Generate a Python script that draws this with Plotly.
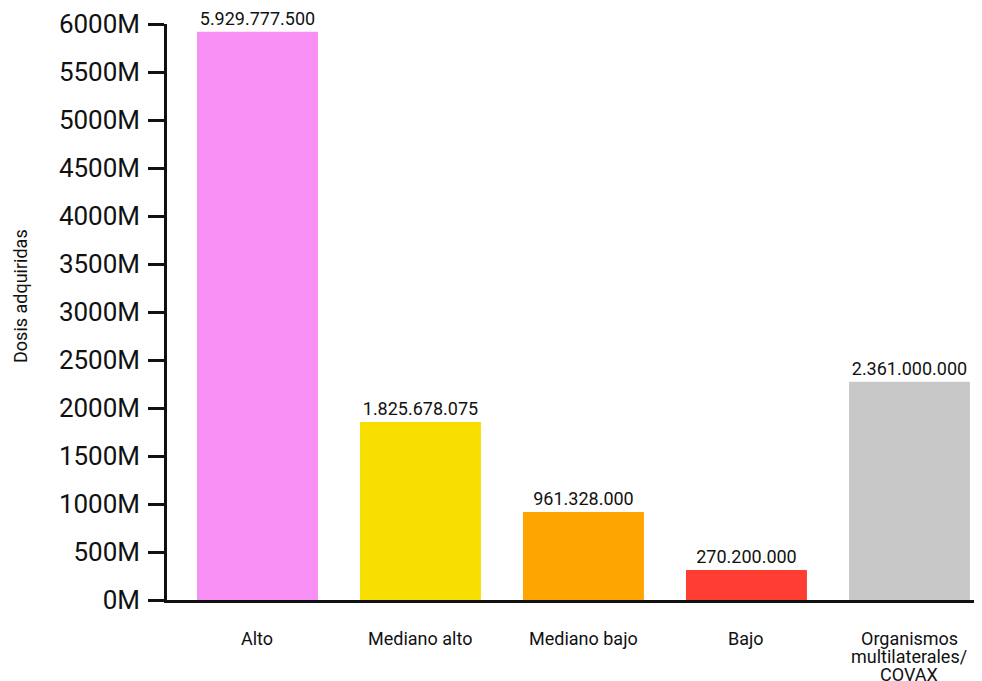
import plotly.graph_objects as go

categories = ["Alto", "Mediano alto", "Mediano bajo", "Bajo", "Organismos multilaterales/ COVAX"]
category_lines = [["Alto"], ["Mediano alto"], ["Mediano bajo"], ["Bajo"],
                  ["Organismos", "multilaterales/", "COVAX"]]
# bar heights (millions of doses)
bar_values_m = [5920, 1854, 917, 312, 2274]
# value labels printed above the bars
value_labels = ["5.929.777.500", "1.825.678.075", "961.328.000", "270.200.000", "2.361.000.000"]
colors = ["#F78FF5", "#F8DE00", "#FFA500", "#FF3D33", "#C8C8C8"]
tick_vals = [0, 500, 1000, 1500, 2000, 2500, 3000, 3500, 4000, 4500, 5000, 5500, 6000]
tick_text = [f"{v}M" for v in tick_vals]

fig = go.Figure(go.Bar(
    x=categories,
    y=bar_values_m,
    marker=dict(color=colors, line=dict(width=0)),
    width=0.742,
    text=value_labels,
    textposition="outside",
    textfont=dict(family="Roboto", size=18, color="#111111"),
    cliponaxis=False,
    hoverinfo="skip",
))

annotations = [dict(
    text="Dosis adquiridas", textangle=-90,
    xref="paper", yref="paper", x=-0.179, y=0.528,
    xanchor="center", yanchor="middle", showarrow=False,
    font=dict(family="Roboto", size=18, color="#111111"),
)]
for cat, lines in zip(categories, category_lines):
    for i, line in enumerate(lines):
        annotations.append(dict(
            text=line, x=cat, y=0, xref="x", yref="y",
            xanchor="center", yanchor="middle", yshift=-(38 + 18 * i),
            showarrow=False,
            font=dict(family="Roboto", size=18, color="#111111"),
        ))

fig.update_layout(
    width=974, height=673,
    margin=dict(l=159, r=0, t=16, b=81),
    paper_bgcolor="white", plot_bgcolor="white",
    font=dict(family="Roboto", color="#111111"),
    showlegend=False,
    xaxis=dict(
        range=[-0.555, 4.445],
        showgrid=False, zeroline=False, automargin=False,
        showline=True, linecolor="#111111", linewidth=2.5,
        ticks="", showticklabels=False,
    ),
    yaxis=dict(
        range=[0, 6000], automargin=False,
        tickvals=tick_vals, ticktext=tick_text,
        showgrid=False, zeroline=False,
        showline=True, linecolor="#111111", linewidth=2.5,
        ticks="outside", ticklen=16, tickwidth=2.5, tickcolor="#111111",
        ticklabelstandoff=3,
        tickfont=dict(family="Roboto", size=26, color="#111111"),
        title=None,
    ),
    annotations=annotations,
)

fig.write_html("out.html")
